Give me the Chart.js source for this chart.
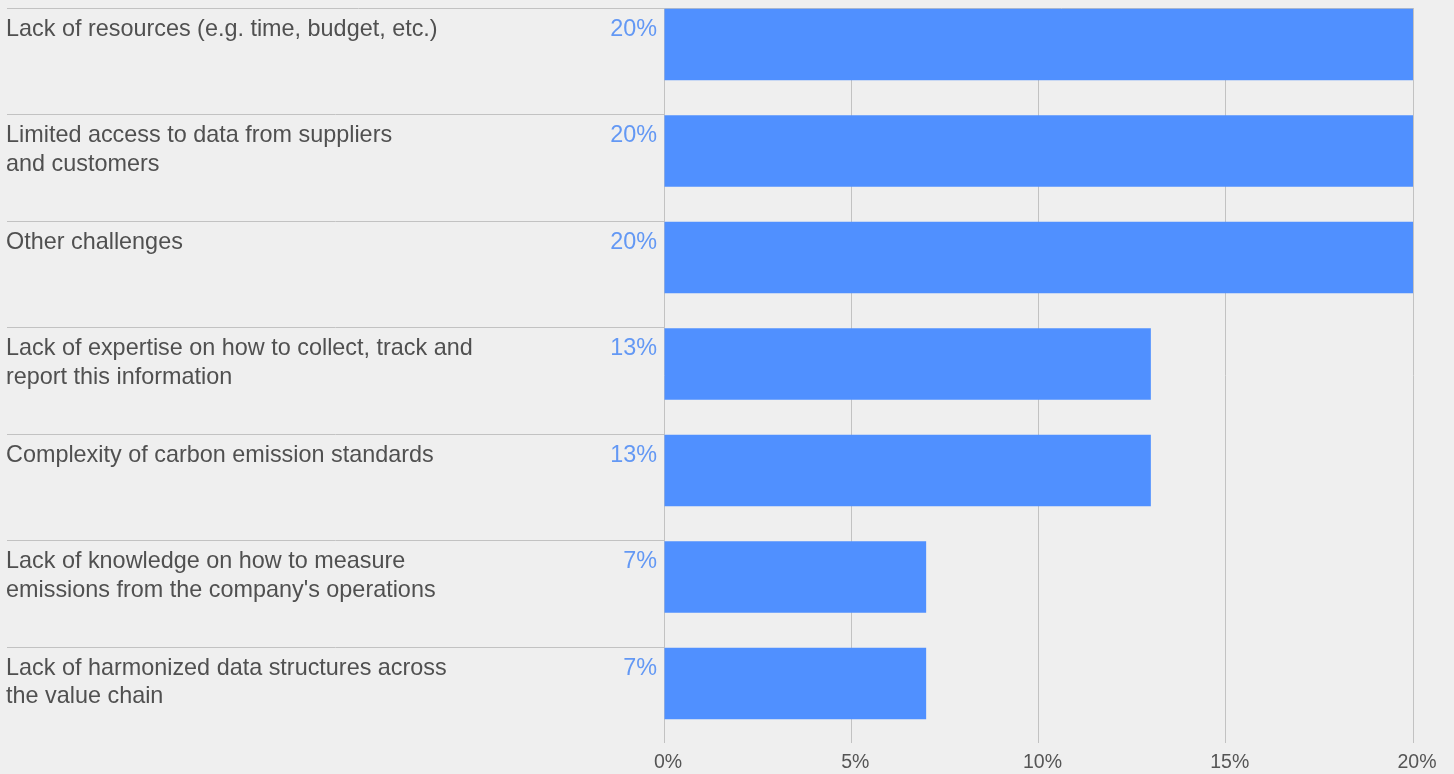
<!DOCTYPE html>
<html>
<head>
<meta charset="utf-8">
<script src="https://cdn.jsdelivr.net/npm/chart.js@4/dist/chart.umd.min.js"></script>
<style>
  html, body { margin: 0; padding: 0; background: #efefef; }
  #wrap { width: 1454px; height: 774px; position: relative; }
</style>
</head>
<body>
<div id="wrap"><canvas id="c"></canvas></div>
<script>
// Challenges reported, one row per challenge (top to bottom)
const categories = [
  ["Lack of resources (e.g. time, budget, etc.)"],
  ["Limited access to data from suppliers", "and customers"],
  ["Other challenges"],
  ["Lack of expertise on how to collect, track and", "report this information"],
  ["Complexity of carbon emission standards"],
  ["Lack of knowledge on how to measure", "emissions from the company's operations"],
  ["Lack of harmonized data structures across", "the value chain"]
];
const shares = [20, 20, 20, 13, 13, 7, 7];
const xTicks = [0, 5, 10, 15, 20];

const FONT = "'Liberation Sans', Arial, Helvetica, sans-serif";
const LABEL_COLOR = '#505050';
const VALUE_COLOR = '#6398f4';
const RULE_COLOR = '#c2c2c2';

// Row separators, row captions and percentage labels, placed from the bar geometry
const rowDecor = {
  id: 'rowDecor',
  beforeDatasetsDraw(chart) {
    const ctx = chart.ctx;
    const meta = chart.getDatasetMeta(0);
    const area = chart.chartArea;
    ctx.save();
    ctx.strokeStyle = RULE_COLOR;
    ctx.lineWidth = 1;
    meta.data.forEach((bar, i) => {
      const top = Math.round(bar.y - bar.height / 2) - 0.5;
      const right = i === 0 ? area.right : area.left;
      ctx.beginPath();
      ctx.moveTo(7, top);
      ctx.lineTo(right, top);
      ctx.stroke();
    });
    ctx.restore();
  },
  afterDatasetsDraw(chart) {
    const ctx = chart.ctx;
    const meta = chart.getDatasetMeta(0);
    const area = chart.chartArea;
    ctx.save();
    ctx.font = '23.4px ' + FONT;
    ctx.textBaseline = 'alphabetic';
    meta.data.forEach((bar, i) => {
      const top = bar.y - bar.height / 2;
      const base = top + 27;
      ctx.fillStyle = LABEL_COLOR;
      ctx.textAlign = 'left';
      categories[i].forEach((line, k) => {
        ctx.fillText(line, 6, base + k * 28.5);
      });
      ctx.fillStyle = VALUE_COLOR;
      ctx.textAlign = 'right';
      ctx.fillText(Math.round(shares[i]) + '%', area.left - 7, base);
    });
    ctx.restore();
  }
};

new Chart(document.getElementById('c'), {
  type: 'bar',
  data: {
    datasets: [{
      data: shares.map((v, i) => ({ x: v, y: i })),
      backgroundColor: '#5090ff',
      borderWidth: 0,
      categoryPercentage: 0.672,
      barPercentage: 1
    }]
  },
  options: {
    indexAxis: 'y',
    responsive: true,
    maintainAspectRatio: false,
    animation: false,
    layout: { padding: { left: 664, right: 41, top: 8, bottom: 0 } },
    plugins: { legend: { display: false }, tooltip: { enabled: false } },
    scales: {
      x: {
        type: 'linear',
        min: 0,
        max: 20,
        afterBuildTicks(scale) { scale.ticks = xTicks.map(v => ({ value: v })); },
        afterFit(scale) { scale.height = 31; },
        border: { display: false },
        grid: { color: RULE_COLOR, lineWidth: 1, drawTicks: false },
        ticks: {
          padding: 8,
          labelOffset: 4,
          color: '#555555',
          font: { family: FONT, size: 19.5 },
          callback: v => v + '%'
        }
      },
      y: {
        type: 'linear',
        reverse: true,
        offset: false,
        min: -0.343,
        max: 6.559,
        afterBuildTicks(scale) { scale.ticks = shares.map((v, i) => ({ value: i })); },
        display: false
      }
    }
  },
  plugins: [rowDecor]
});
</script>
</body>
</html>
